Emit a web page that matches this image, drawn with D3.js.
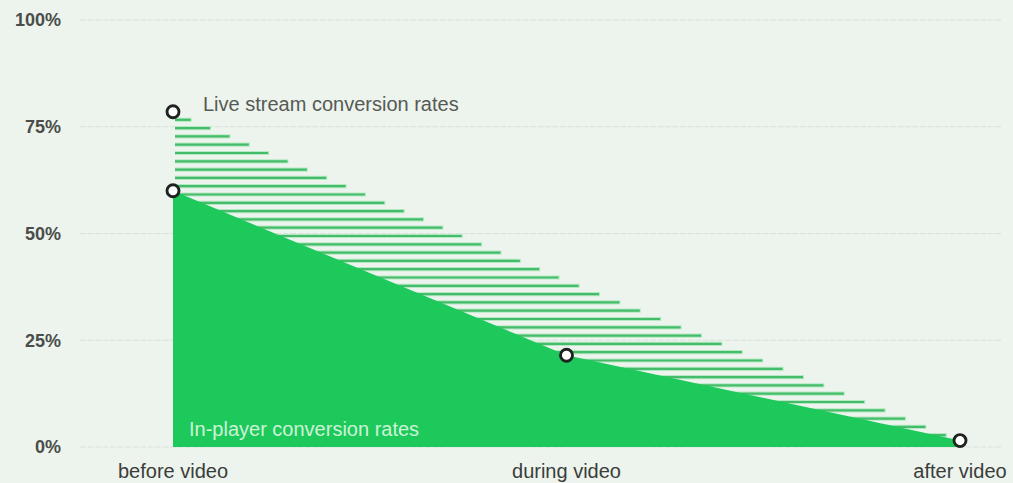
<!DOCTYPE html>
<html>
<head>
<meta charset="utf-8">
<script src="https://cdn.jsdelivr.net/npm/d3@7"></script>
<style>
  html, body { margin: 0; padding: 0; background: #edf3ed; }
  svg { display: block; }
  text { font-family: "Liberation Sans", Arial, sans-serif; }
</style>
</head>
<body>
<svg id="chart" width="1013" height="483"></svg>
<script>
// Conversion rates across the video timeline (percent)
const categories = ["before video", "during video", "after video"];
const liveStream = [78.5, 39, 1.5];
const inPlayer = [60, 21.5, 1.5];
const yTicks = [0, 25, 50, 75, 100];
const liveMarkerAt = ["before video"];

const svg = d3.select("#chart");

const x = d3.scalePoint().domain(categories).range([173, 960]);
const y = d3.scaleLinear().domain([0, 100]).range([447, 20]);

const liveData = categories.map((c, i) => ({ c, v: liveStream[i] }));
const playerData = categories.map((c, i) => ({ c, v: inPlayer[i] }));

// Gridlines
svg.append("g")
  .selectAll("line")
  .data(yTicks)
  .join("line")
  .attr("x1", 80).attr("x2", 1001)
  .attr("y1", d => y(d)).attr("y2", d => y(d))
  .attr("stroke", "#d9e2d9")
  .attr("stroke-width", 1.2)
  .attr("stroke-dasharray", "6,1.5");

// Y tick labels
svg.append("g")
  .selectAll("text")
  .data(yTicks)
  .join("text")
  .attr("x", 61)
  .attr("y", d => y(d))
  .attr("dy", "0.36em")
  .attr("text-anchor", "end")
  .attr("font-size", 18)
  .attr("font-weight", "bold")
  .attr("fill", "#4a4d4a")
  .text(d => d + "%");

// Live stream band: horizontal hatch lines running from the first
// category to where each level meets the live stream line.
function liveXAt(v) {
  for (let i = 0; i < liveStream.length - 1; i++) {
    const a = liveStream[i], b = liveStream[i + 1];
    if (v <= a && v >= b) {
      const t = (a - v) / (a - b);
      return x(categories[i]) + t * (x(categories[i + 1]) - x(categories[i]));
    }
  }
  return x(categories[categories.length - 1]);
}

const step = 8.3;
const levels = d3.range(y(liveStream[0]) + 8, y(0), step);
const hatch = svg.append("g");
const x0 = x(categories[0]) + 2;

hatch.selectAll("line.halo")
  .data(levels)
  .join("line")
  .attr("class", "halo")
  .attr("x1", x0)
  .attr("x2", d => liveXAt(y.invert(d)))
  .attr("y1", d => d).attr("y2", d => d)
  .attr("stroke", "#b3eac3")
  .attr("stroke-width", 4.2);

hatch.selectAll("line.core")
  .data(levels)
  .join("line")
  .attr("class", "core")
  .attr("x1", x0)
  .attr("x2", d => liveXAt(y.invert(d)) - 1)
  .attr("y1", d => d).attr("y2", d => d)
  .attr("stroke", "#45bc69")
  .attr("stroke-width", 2.2);

// In-player solid area
const playerArea = d3.area()
  .x(d => x(d.c))
  .y0(y(0))
  .y1(d => y(d.v))
  .curve(d3.curveLinear);

svg.append("path")
  .datum(playerData)
  .attr("d", playerArea)
  .attr("fill", "#1ec95b");

// Series labels
svg.append("text")
  .attr("x", x(categories[0]) + 30)
  .attr("y", y(liveStream[0]) - 1)
  .attr("font-size", 20)
  .attr("fill", "#555a55")
  .text("Live stream conversion rates");

svg.append("text")
  .attr("x", x(categories[0]) + 16)
  .attr("y", 436)
  .attr("font-size", 20)
  .attr("fill", "#cdf3d7")
  .text("In-player conversion rates");

// Markers
const markers = playerData.concat(liveData.filter(d => liveMarkerAt.includes(d.c)));
svg.append("g")
  .selectAll("circle")
  .data(markers)
  .join("circle")
  .attr("cx", d => x(d.c))
  .attr("cy", d => y(d.v))
  .attr("r", 6)
  .attr("fill", "#ffffff")
  .attr("stroke", "#1f231f")
  .attr("stroke-width", 2.9);

// Category labels
svg.append("g")
  .selectAll("text")
  .data(categories)
  .join("text")
  .attr("x", d => x(d))
  .attr("y", 478)
  .attr("text-anchor", "middle")
  .attr("font-size", 20)
  .attr("fill", "#3a3d3a")
  .text(d => d);
</script>
</body>
</html>
